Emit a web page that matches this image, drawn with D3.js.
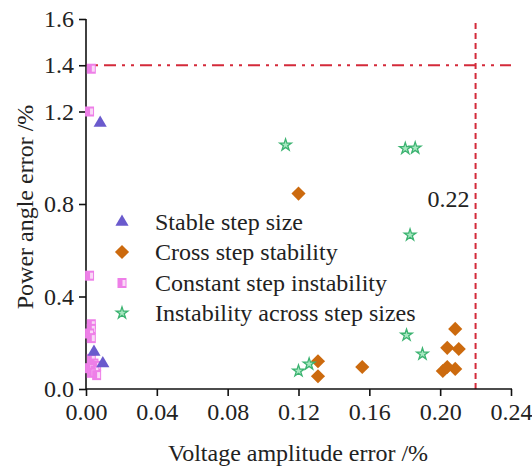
<!DOCTYPE html>
<html>
<head>
<meta charset="utf-8">
<script src="https://cdn.jsdelivr.net/npm/d3@7"></script>
<style>
  body { margin: 0; background: #fff; }
  text { font-family: "Liberation Serif", "Times New Roman", serif; fill: #222; }
</style>
</head>
<body>
<div id="chart"></div>
<script>
var width = 532,
    height = 468

// data: [voltage amplitude error %, power angle error %]
var stableStep = [[0.008, 1.15], [0.0045, 0.16], [0.0095, 0.11]]
var crossStep = [[0.12, 0.845], [0.131, 0.12], [0.131, 0.055], [0.156, 0.095],
    [0.2085, 0.26], [0.204, 0.178], [0.2105, 0.173], [0.2015, 0.078], [0.2085, 0.087], [0.204, 0.095]]
var constantStep = [[0.003, 1.385], [0.002, 1.2], [0.002, 0.49], [0.003, 0.28], [0.003, 0.26],
    [0.002, 0.24], [0.003, 0.22], [0.003, 0.13], [0.0045, 0.11], [0.006, 0.10], [0.002, 0.09],
    [0.005, 0.08], [0.003, 0.07], [0.006, 0.06]]
var acrossStep = [[0.1127, 1.055], [0.1803, 1.04], [0.1859, 1.042], [0.183, 0.666],
    [0.12, 0.078], [0.126, 0.108], [0.181, 0.233], [0.19, 0.151]]
var seriesNames = ['Stable step size', 'Cross step stability', 'Constant step instability', 'Instability across step sizes']
var xTicks = [0, 0.04, 0.08, 0.12, 0.16, 0.20, 0.24]
var yTicks = [0, 0.4, 0.8, 1.2, 1.4, 1.6]
var xLimit = 0.22, yLimit = 1.4

var x = d3.scaleLinear().domain([0, 0.24]).range([86, 511])
var y = d3.scaleLinear().domain([0, 1.6]).range([389, 19])

var svg = d3.select('#chart').append('svg')
    .attr('width', width)
    .attr('height', height)

// reference lines
svg.append('line')
    .attr('x1', x(0)).attr('x2', x(0.24))
    .attr('y1', y(yLimit)).attr('y2', y(yLimit))
    .attr('stroke', '#d42a3a').attr('stroke-width', 2)
    .attr('stroke-dasharray', '3,6,3,6,12,6')
svg.append('line')
    .attr('x1', x(xLimit)).attr('x2', x(xLimit))
    .attr('y1', y(0)).attr('y2', y(1.6))
    .attr('stroke', '#d42a3a').attr('stroke-width', 2)
    .attr('stroke-dasharray', '6,4')
svg.append('text')
    .attr('x', x(xLimit) - 6).attr('y', 207)
    .attr('text-anchor', 'end')
    .style('font-size', '24px')
    .text('0.22')

// axes
var xAxis = svg.append('g')
    .attr('transform', 'translate(0,' + y(0) + ')')
    .call(d3.axisBottom(x).tickValues(xTicks).tickFormat(d3.format('.2f')).tickSizeOuter(0).tickSize(7).tickPadding(7))
var yAxis = svg.append('g')
    .attr('transform', 'translate(' + x(0) + ',0)')
    .call(d3.axisLeft(y).tickValues(yTicks).tickFormat(d3.format('.1f')).tickSizeOuter(0).tickSize(7).tickPadding(5))
svg.selectAll('.domain, .tick line').attr('stroke', '#111').attr('stroke-width', 1.6)
svg.selectAll('.tick text').style('font-size', '24px').style('font-family', '"Liberation Serif", serif').attr('fill', '#222')
xAxis.select('.domain').attr('d', 'M' + x(0) + ',0H' + (x(0.24) + 1))
yAxis.select('.domain').attr('d', 'M0,' + (y(0) + 1) + 'V' + y(1.6))

svg.append('text')
    .attr('x', 298).attr('y', 461)
    .attr('text-anchor', 'middle')
    .style('font-size', '24px')
    .text('Voltage amplitude error /%')
svg.append('text')
    .attr('transform', 'translate(33,207) rotate(-90)')
    .attr('text-anchor', 'middle')
    .style('font-size', '24px')
    .text('Power angle error /%')

// marker drawers
var tri = d3.symbol().type(d3.symbolTriangle).size(75)
var dia = d3.symbol().type(d3.symbolSquare).size(100)
var star = d3.symbol().type(d3.symbolStar).size(42)

function drawSquare(g, cx, cy) {
    g.append('rect').attr('x', cx - 4.5).attr('y', cy - 5).attr('width', 9).attr('height', 10).attr('fill', '#ee7fe8')
    g.append('rect').attr('x', cx + 0.5).attr('y', cy - 3).attr('width', 3).attr('height', 6).attr('fill', '#f9d8f6')
}

var marks = svg.append('g')
marks.selectAll('path.cross').data(crossStep).enter().append('path')
    .attr('class', 'cross')
    .attr('d', dia)
    .attr('fill', '#cc6a0e')
    .attr('transform', function(d) { return 'translate(' + x(d[0]) + ',' + y(d[1]) + ') rotate(45)' })
marks.selectAll('path.across').data(acrossStep).enter().append('path')
    .attr('class', 'across')
    .attr('d', star)
    .attr('fill', '#a6e8c0')
    .attr('stroke', '#3cb371').attr('stroke-width', 1.3)
    .attr('transform', function(d) { return 'translate(' + x(d[0]) + ',' + y(d[1]) + ')' })
constantStep.forEach(function(d) { drawSquare(marks, x(d[0]), y(d[1])) })
marks.selectAll('path.stable').data(stableStep).enter().append('path')
    .attr('class', 'stable')
    .attr('d', tri)
    .attr('fill', '#6a5acd')
    .attr('transform', function(d) { return 'translate(' + x(d[0]) + ',' + y(d[1]) + ')' })

// legend
var legend = svg.append('g')
var rowY = [222, 252, 283, 313]
seriesNames.forEach(function(name, i) {
    var cy = rowY[i], cx = 122
    if (i == 0) legend.append('path').attr('d', tri).attr('fill', '#6a5acd').attr('transform', 'translate(' + cx + ',' + cy + ')')
    if (i == 1) legend.append('path').attr('d', dia).attr('fill', '#cc6a0e').attr('transform', 'translate(' + cx + ',' + cy + ') rotate(45)')
    if (i == 2) drawSquare(legend, cx, cy)
    if (i == 3) legend.append('path').attr('d', star).attr('fill', '#a6e8c0').attr('stroke', '#3cb371').attr('stroke-width', 1.3).attr('transform', 'translate(' + cx + ',' + cy + ')')
    legend.append('text')
        .attr('x', 155).attr('y', cy + 8)
        .style('font-size', '24px')
        .text(name)
})
</script>
</body>
</html>
